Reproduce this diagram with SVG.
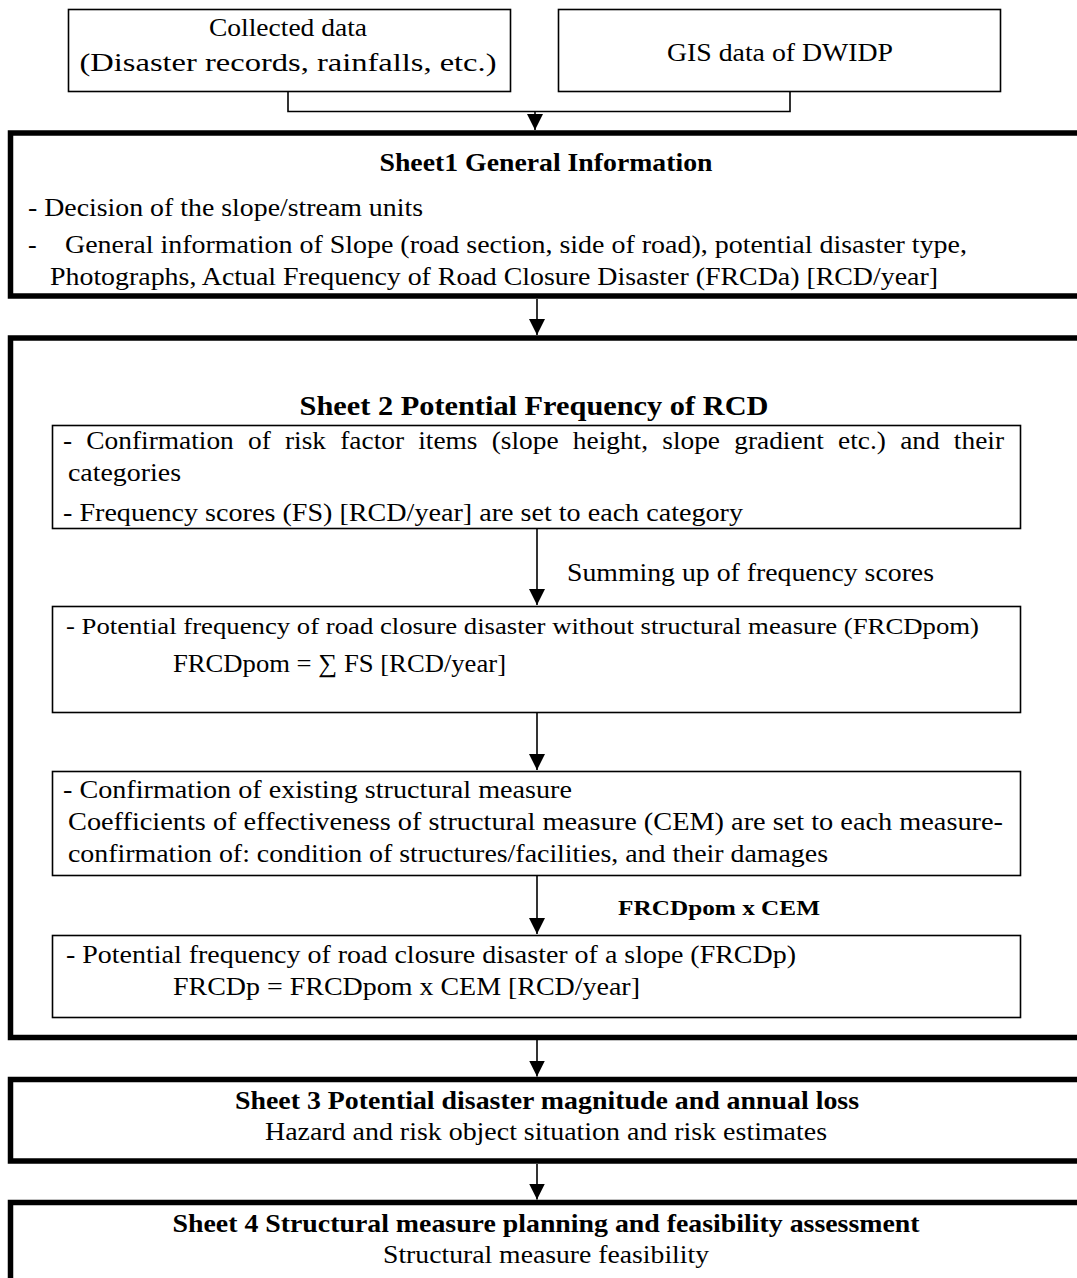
<svg xmlns="http://www.w3.org/2000/svg" width="1077" height="1278" viewBox="0 0 1077 1278">
<style>
text{font-family:"Liberation Serif","Times New Roman",serif;fill:#000;font-size:26px}
.b{font-weight:bold}
.c{text-anchor:middle}
.thin{fill:#fff;stroke:#000;stroke-width:1.6}
.thick{fill:#fff;stroke:#000;stroke-width:5.5}
.ln{fill:none;stroke:#000;stroke-width:1.6}
</style>
<defs>
<marker id="ah" markerUnits="userSpaceOnUse" markerWidth="16" markerHeight="16" viewBox="0 0 14 14" refX="14" refY="7" orient="auto">
<path d="M0,0 L14,7 L0,14 Z" fill="#000"/>
</marker>
</defs>
<rect width="1077" height="1278" fill="#fff"/>

<g id="collected">
<rect class="thin" x="68.5" y="9.5" width="442" height="82"/>
<text class="c" x="288" y="36" textLength="158" lengthAdjust="spacingAndGlyphs">Collected data</text>
<text class="c" x="288" y="71" textLength="417" lengthAdjust="spacingAndGlyphs">(Disaster records, rainfalls, etc.)</text>
</g>
<g id="gis">
<rect class="thin" x="558.5" y="9.5" width="442" height="82"/>
<text class="c" x="780" y="61" textLength="226" lengthAdjust="spacingAndGlyphs">GIS data of DWIDP</text>
</g>

<g id="sheet1">
<rect class="thick" x="10.5" y="133" width="1080" height="163"/>
<text class="c b" x="546" y="171" textLength="333" lengthAdjust="spacingAndGlyphs">Sheet1 General Information</text>
<text x="28" y="216" textLength="395" lengthAdjust="spacingAndGlyphs">- Decision of the slope/stream units</text>
<text x="28" y="253">-</text>
<text x="65" y="253" textLength="902" lengthAdjust="spacingAndGlyphs">General information of Slope (road section, side of road), potential disaster type,</text>
<text x="50" y="285" textLength="888" lengthAdjust="spacingAndGlyphs">Photographs, Actual Frequency of Road Closure Disaster (FRCDa) [RCD/year]</text>
</g>

<g id="sheet2">
<rect class="thick" x="10.5" y="338" width="1080" height="699.5"/>
<text class="c b" x="534" y="415" style="font-size:28px" textLength="469" lengthAdjust="spacingAndGlyphs">Sheet 2 Potential Frequency of RCD</text>
</g>

<g id="risk-factors">
<rect class="thin" x="52.5" y="425.5" width="968" height="103"/>
<text x="63" y="449" word-spacing="7" textLength="941" lengthAdjust="spacingAndGlyphs">- Confirmation of risk factor items (slope height, slope gradient etc.) and their</text>
<text x="68" y="481" textLength="113" lengthAdjust="spacingAndGlyphs">categories</text>
<text x="63" y="521" textLength="680" lengthAdjust="spacingAndGlyphs">- Frequency scores (FS) [RCD/year] are set to each category</text>
</g>

<g id="frcdpom">
<rect class="thin" x="52.5" y="606.5" width="968" height="106"/>
<text x="66" y="634" style="font-size:24px" textLength="913" lengthAdjust="spacingAndGlyphs">- Potential frequency of road closure disaster without structural measure (FRCDpom)</text>
<text x="173" y="672" textLength="333" lengthAdjust="spacingAndGlyphs">FRCDpom = ∑ FS [RCD/year]</text>
</g>

<g id="existing-measure">
<rect class="thin" x="52.5" y="771.5" width="968" height="104"/>
<text x="63" y="798" textLength="509" lengthAdjust="spacingAndGlyphs">- Confirmation of existing structural measure</text>
<text x="68" y="830" textLength="935" lengthAdjust="spacingAndGlyphs">Coefficients of effectiveness of structural measure (CEM) are set to each measure-</text>
<text x="68" y="862" textLength="760" lengthAdjust="spacingAndGlyphs">confirmation of: condition of structures/facilities, and their damages</text>
</g>

<g id="frcdp">
<rect class="thin" x="52.5" y="935.5" width="968" height="82"/>
<text x="66" y="963" textLength="730" lengthAdjust="spacingAndGlyphs">- Potential frequency of road closure disaster of a slope (FRCDp)</text>
<text x="173" y="995" textLength="467" lengthAdjust="spacingAndGlyphs">FRCDp = FRCDpom x CEM [RCD/year]</text>
</g>

<g id="sheet3">
<rect class="thick" x="10.5" y="1079.5" width="1080" height="81.5"/>
<text class="c b" x="547" y="1109" textLength="624" lengthAdjust="spacingAndGlyphs">Sheet 3 Potential disaster magnitude and annual loss</text>
<text class="c" x="546" y="1140" textLength="562" lengthAdjust="spacingAndGlyphs">Hazard and risk object situation and risk estimates</text>
</g>

<g id="sheet4">
<rect class="thick" x="10.5" y="1202.5" width="1080" height="100"/>
<text class="c b" x="546" y="1232" textLength="747" lengthAdjust="spacingAndGlyphs">Sheet 4 Structural measure planning and feasibility assessment</text>
<text class="c" x="546" y="1263" textLength="326" lengthAdjust="spacingAndGlyphs">Structural measure feasibility</text>
</g>

<g id="connectors">
<polyline class="ln" points="288,92 288,111.5 790,111.5 790,92"/>
<line class="ln" x1="535" y1="111.5" x2="535" y2="130" marker-end="url(#ah)"/>
<line class="ln" x1="537" y1="299" x2="537" y2="335" marker-end="url(#ah)"/>
<line class="ln" x1="537" y1="529" x2="537" y2="605" marker-end="url(#ah)"/>
<text x="567" y="581" textLength="367" lengthAdjust="spacingAndGlyphs">Summing up of frequency scores</text>
<line class="ln" x1="537" y1="713" x2="537" y2="770" marker-end="url(#ah)"/>
<line class="ln" x1="537" y1="876" x2="537" y2="934" marker-end="url(#ah)"/>
<text class="b" x="618" y="915" style="font-size:22px" textLength="202" lengthAdjust="spacingAndGlyphs">FRCDpom x CEM</text>
<line class="ln" x1="537" y1="1040" x2="537" y2="1076.5" marker-end="url(#ah)"/>
<line class="ln" x1="537" y1="1164" x2="537" y2="1199.5" marker-end="url(#ah)"/>
</g>
</svg>
